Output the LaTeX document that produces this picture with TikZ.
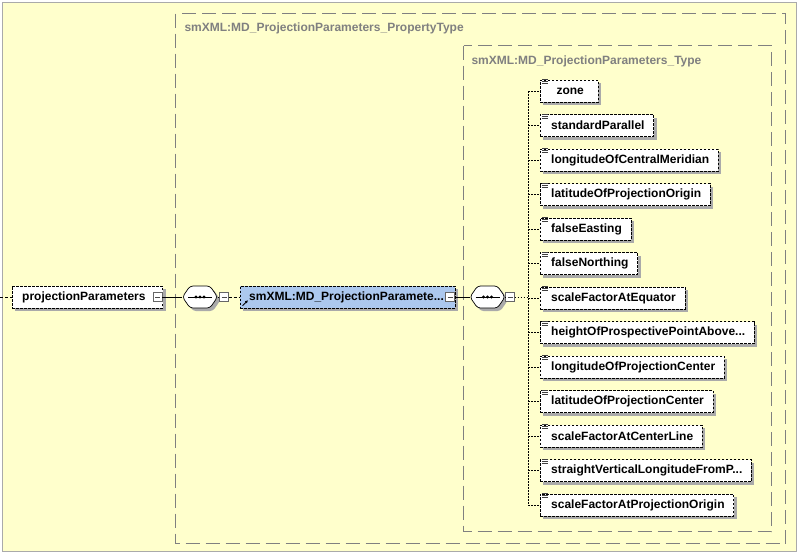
\documentclass[tikz,border=0pt]{standalone}
\usepackage{fontspec}
\setmainfont{Liberation Sans}
\usetikzlibrary{shadows,calc,arrows.meta}

\definecolor{canvas}{RGB}{255,255,204}
\definecolor{framegray}{RGB}{128,128,128}
\definecolor{typeblue}{RGB}{172,200,238}
\definecolor{shadowgray}{RGB}{170,170,170}

\newcommand{\ellip}{...}

\tikzset{
  elembox/.style={draw=black, dash pattern=on 2.5pt off 1.5pt, fill=white,
    minimum height=22pt, inner ysep=0pt, inner xsep=0pt, anchor=west,
    font=\bfseries\fontsize{12}{14}\selectfont, text=black,
    drop shadow={shadow xshift=3pt, shadow yshift=-3pt, fill=shadowgray, opacity=1}},
  typebox/.style={elembox, fill=typeblue},
  childbox/.style={elembox, minimum width=58pt},
  expander/.style={draw=black!60, solid, fill=white, minimum size=9pt, inner sep=0pt,
    path picture={\draw[black!70] ([xshift=2pt]path picture bounding box.west) --
      ([xshift=-2pt]path picture bounding box.east);}},
  seqanchor/.style={minimum width=35pt, minimum height=22pt, inner sep=0pt},
  frame/.style={draw=framegray, line width=0.8pt, dash pattern=on 14pt off 6pt},
  frametitle/.style={anchor=west, text=framegray, font=\bfseries\fontsize{12}{14}\selectfont},
  solidlink/.style={draw=black, line width=0.6pt},
  dashlink/.style={draw=black, line width=0.6pt, dash pattern=on 3pt off 2pt},
  dotlink/.style={draw=black, line width=0.6pt, dash pattern=on 1.5pt off 1.5pt},
}

% sequence compositor: named anchor node, bevelled outline with shadow, dotted bar
\newcommand{\seqcompositor}[3]{%
  \node[seqanchor] (#1) at (#2,#3) {};
  \begin{scope}[shift={(#1.center)}]
    \fill[shadowgray, rounded corners=3pt, shift={(3,3)}]
      (-17.5,0) -- (-10,-11) -- (10,-11) -- (17.5,0) -- (10,11) -- (-10,11) -- cycle;
    \filldraw[fill=white, draw=black, line width=0.7pt, rounded corners=3pt]
      (-17.5,0) -- (-10,-11) -- (10,-11) -- (17.5,0) -- (10,11) -- (-10,11) -- cycle;
    \draw[line width=0.8pt] (-12,0) -- (12,0);
    \foreach \dx in {-4,0,4} \fill (\dx,0) circle (1.7pt);
  \end{scope}}

% small "element" glyph in the top-left corner of a child box
\newcommand{\elemglyph}[1]{%
  \foreach \dy in {0,2,4}
    \draw[black!75, line width=0.7pt] ($(#1.north west)+(2,\dy)$) -- ++(6,0);}

\begin{document}
\begin{tikzpicture}[x=1pt,y=-1pt]
  \useasboundingbox (0,0) rectangle (800,557);
  \fill[white] (0,0) rectangle (800,557);
  \filldraw[fill=canvas, draw=shadowgray, line width=1pt] (2.5,2.5) rectangle (796.5,551.5);

  % group frames
  \draw[frame] (175.5,13.5) rectangle (785.5,543.5);
  \node[frametitle] (outertitle) at (181,28) {smXML:MD\_ProjectionParameters\_PropertyType};
  \draw[frame] (463.5,45.5) rectangle (771.5,531.5);
  \node[frametitle] (innertitle) at (468,61) {smXML:MD\_ProjectionParameters\_Type};

  % root element
  \coordinate (entry) at (0,297);
  \node[elembox] (pp) at (12,297) {\hspace*{10pt}projectionParameters\hspace*{17pt}};
  \node[expander] (ppx) at ($(pp.east)+(-5,0)$) {};

  % first sequence
  \seqcompositor{seqA}{200}{297}
  \node[expander] (seqAx) at (224,297) {};

  % complex type reference
  \node[typebox] (tn) at (240,297) {\hspace*{9pt}smXML:MD\_ProjectionParamete\ellip\hspace*{11pt}};
  \node[expander] (tnx) at ($(tn.east)+(-5,0)$) {};
  \draw[black, line width=0.8pt, -{Latex[length=3pt,width=3pt]}]
    ($(tn.south west)+(2.5,-2.5)$) -- ++(5.5,-5.5);

  % second sequence
  \seqcompositor{seqB}{487.5}{297}
  \node[expander] (seqBx) at (510,297) {};

  % connectors along the main row
  \draw[dashlink] (entry) -- (pp.west);
  \draw[solidlink] (ppx.east) -- (seqA.west);
  \draw[solidlink] (seqA.east) -- (seqAx.west);
  \draw[dashlink] (seqAx.east) -- (tn.west);
  \draw[solidlink] (tnx.east) -- (seqB.west);
  \draw[solidlink] (seqB.east) -- (seqBx.west);

  % child elements
  \coordinate (spine) at (528,297);
  \foreach \i/\t in {1/zone, 2/standardParallel, 3/longitudeOfCentralMeridian,
      4/latitudeOfProjectionOrigin, 5/falseEasting, 6/falseNorthing,
      7/scaleFactorAtEquator, 8/heightOfProspectivePointAbove\ellip,
      9/longitudeOfProjectionCenter, 10/latitudeOfProjectionCenter,
      11/scaleFactorAtCenterLine, 12/straightVerticalLongitudeFromP\ellip,
      13/scaleFactorAtProjectionOrigin} {
    \node[childbox] (c\i) at (540,{91+34.5*(\i-1)}) {\hspace*{11pt}\t\hspace*{9pt}};
    \elemglyph{c\i}
    \draw[dotlink] (spine |- c\i.west) -- (c\i.west);
  }
  \draw[dotlink] (seqBx.east) -- (spine);
  \draw[dotlink] (spine |- c1.west) -- (spine |- c13.west);
\end{tikzpicture}
\end{document}
